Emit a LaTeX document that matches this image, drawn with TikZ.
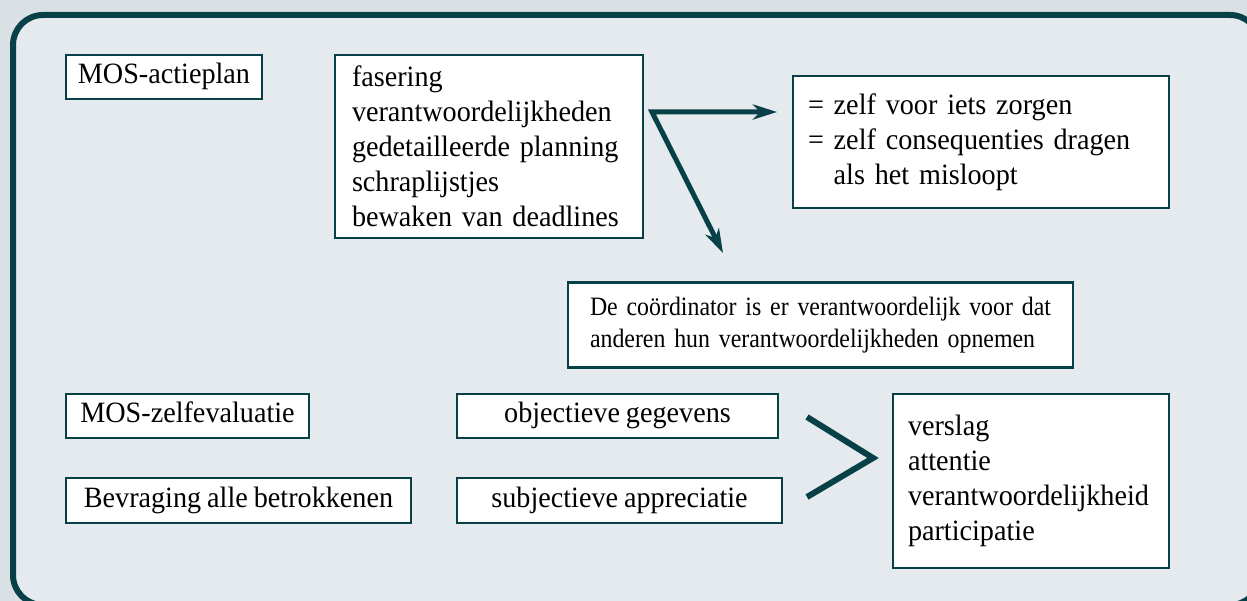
\documentclass[tikz,border=0pt]{standalone}
\usepackage{fontspec}
\setmainfont[FakeStretch=0.955,WordSpace=0.85]{Liberation Serif}
\newfontfamily\narrowfont[FakeStretch=0.9,WordSpace=0.85]{Liberation Serif}
\usepackage{tikz}
\usetikzlibrary{arrows.meta}
\definecolor{myteal}{RGB}{8,64,72}
\definecolor{mybg}{RGB}{217,225,228}
\definecolor{mypanel}{RGB}{228,234,237}
\tikzstyle{box} = [draw=myteal,line width=2.6pt,fill=white,inner ysep=0pt]
\tikzstyle{single} = [box,inner xsep=0pt,text height=19pt,text depth=6pt]
\tikzstyle{listbox} = [box,align=left]
\tikzstyle{splitarrow} = [myteal,line width=5pt,miter limit=20,{Stealth[length=24pt,width=15pt,inset=7pt]}-{Stealth[length=24pt,width=15pt,inset=7pt]}]

\begin{document}
\begin{tikzpicture}[x=1pt,y=-1pt,font=\fontsize{29.5}{35}\selectfont]
            % background
            \useasboundingbox (0,0) rectangle (1247,601);
            \fill[mybg] (0,0) rectangle (1247,601);
            \clip (0,0) rectangle (1247,601);
            \draw[myteal,line width=6pt,fill=mypanel,rounded corners=30pt] (13,15) rectangle (1260,605);
            % actieplan
            \node[single,minimum width=196pt,minimum height=44pt] (actieplan) at (164,77) {MOS-actieplan};
            \node[listbox,inner xsep=17pt,text width=274pt,minimum height=183pt] (taken) at (489,146.5) {fasering\\verantwoordelijkheden\\gedetailleerde planning\\schraplijstjes\\bewaken van deadlines};
            \node[listbox,inner xsep=15pt,text width=346pt,minimum height=132pt] (zelf) at (981,142) {= zelf voor iets zorgen\\= zelf consequenties dragen\\\phantom{= }als het misloopt};
            \node[listbox,inner xsep=22pt,text width=461pt,minimum height=85pt,font=\narrowfont\fontsize{26.5}{32}\selectfont] (coord) at (820.5,325) {De coördinator is er verantwoordelijk voor dat\\anderen hun verantwoordelijkheden opnemen};
            \coordinate (split) at (652,112);
            \coordinate (zelfin) at (777,112);
            \coordinate (coordin) at (723,253);
            \draw[splitarrow] (zelfin) -- (split) -- (coordin);
            % evaluatie
            \node[single,minimum width=243pt,minimum height=44pt] (zelfeval) at (187.5,416) {MOS-zelfevaluatie};
            \node[single,minimum width=345pt,minimum height=45pt] (bevraging) at (238.5,500.5) {Bevraging alle betrokkenen};
            \node[single,minimum width=321pt,minimum height=44pt] (objectief) at (617.5,416) {objectieve gegevens};
            \node[single,minimum width=325pt,minimum height=45pt] (subjectief) at (619.5,500.5) {subjectieve appreciatie};
            \node[listbox,inner xsep=15pt,text width=246pt,minimum height=174pt] (verslag) at (1031,481) {verslag\\attentie\\verantwoordelijkheid\\participatie};
            \coordinate (gtTop) at (807,417);
            \coordinate (gtTip) at (873,458);
            \coordinate (gtBot) at (807,497);
            \draw[myteal,line width=6pt] (gtTop) -- (gtTip) -- (gtBot);
        \end{tikzpicture}
\end{document}
